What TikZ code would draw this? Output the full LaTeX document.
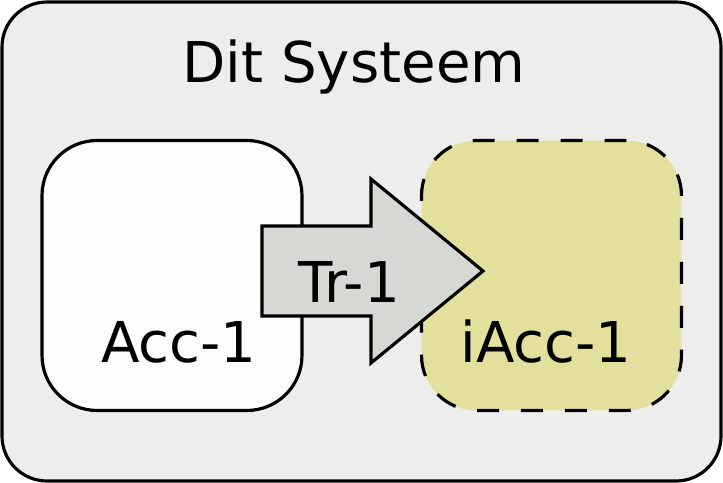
\documentclass[tikz,border=0pt]{standalone}
\usepackage{fontspec}
\setmainfont{DejaVu Sans}
\usepackage{xcolor}
\usetikzlibrary{arrows.meta}

\definecolor{sysgrey}{HTML}{EDEEEC}
\definecolor{accwhite}{HTML}{FDFDFB}
\definecolor{iaccyellow}{HTML}{E2E09C}
\definecolor{trgrey}{HTML}{D6D8D3}

\tikzset{
    lbl/.style = {anchor = base, inner sep = 0pt, font = \fontsize{32}{39}\selectfont},
    accbox/.style = {draw, line width = 1.8pt, rounded corners = 1.1cm,
        minimum width = 5.2cm, minimum height = 5.4cm, inner sep = 0pt},
}

\begin{document}
\begin{tikzpicture}[x = 0.02cm, y = -0.02cm]
        \useasboundingbox (0,0) rectangle (723,483);

        \filldraw[fill = sysgrey, line width = 1.8pt, rounded corners = 0.9cm] (2,2) rectangle (721,481);
        \node[lbl] (title) at (354,83) {Dit Systeem};

        \node[accbox, fill = accwhite] (acc) at (172,275.5) {};
        \node[accbox, fill = iaccyellow, dash pattern = on 12.5pt off 12.5pt] (iacc) at (551.5,275.5) {};

        \node[lbl] (acctext) at (179,362) {Acc-1};
        \node[lbl] (iacctext) at (546,362) {iAcc-1};

        % transactie-pijl
        \filldraw[fill = trgrey, line width = 1.8pt, miter limit = 10]
            (262,226) -- (371,226) -- (371,179) -- (483,271) -- (371,363) -- (371,316) -- (262,316) -- cycle;
        \node[lbl] (trtext) at (349,302) {Tr-1};
    \end{tikzpicture}
\end{document}
